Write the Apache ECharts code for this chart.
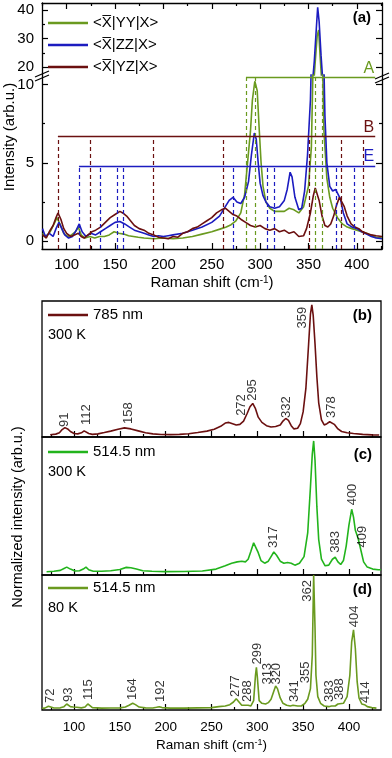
<!DOCTYPE html>
<html>
<head>
<meta charset="utf-8">
<script src="https://cdn.jsdelivr.net/npm/echarts@6/dist/echarts.min.js"></script>
<style>
  html, body { margin: 0; padding: 0; background: #fff; }
  #chart { width: 392px; height: 758px; }
</style>
</head>
<body>
<div id="chart"></div>
<script>
// ── data ─────────────────────────────────────────────────
// panel (a): polarized spectra, [Raman shift, intensity]
const specYY = [[75,0.5],[79,0.3],[83,0.6],[87,1.1],[90,1.5],[93,1.1],[97,0.5],[101,0.3],[105,0.4],[109,0.6],[112,0.9],[115,0.4],[119,0.2],[124,0.3],[129,0.2],[134,0.3],[139,0.3],[144,0.4],[149,0.6],[154,0.5],[159,0.45],[164,0.35],[169,0.3],[174,0.25],[180,0.2],[190,0.15],[200,0.2],[210,0.15],[220,0.2],[230,0.3],[240,0.45],[250,0.6],[260,0.8],[265,0.9],[270,1.05],[275,1.3],[280,1.8],[284,3.0],[287,5.0],[290,7.0],[292,9.0],[294.5,10.2],[297,9.6],[299,7.2],[301,5.0],[303,3.5],[306,2.5],[310,2.1],[315,1.9],[320,1.9],[325,1.9],[330,2.1],[335,2.0],[340,1.8],[345,2.2],[350,3.5],[353,6],[355,12],[357,22],[359,31],[360.5,33],[362,24],[364,13],[366,7],[369,4],[372,2.8],[375,2.1],[380,1.5],[385,1.1],[390,0.9],[395,0.8],[400,0.7],[405,0.6],[410,0.5],[415,0.35],[420,0.25],[426,0.2]];
const specZZ = [[75,0.8],[78,0.3],[82,0.5],[86,0.3],[89,0.8],[92,1.2],[95,0.8],[98,0.4],[102,0.2],[106,0.3],[110,0.7],[113,1.1],[116,0.6],[120,0.3],[125,0.5],[130,0.4],[135,0.6],[140,0.8],[145,1.0],[150,1.2],[155,1.25],[160,1.1],[165,0.9],[170,0.7],[175,0.6],[180,0.5],[185,0.4],[190,0.3],[195,0.35],[200,0.3],[205,0.35],[210,0.4],[220,0.5],[230,0.7],[240,0.9],[250,1.2],[258,1.6],[264,2.2],[268,2.6],[272,2.8],[276,2.5],[280,2.4],[284,2.8],[288,3.8],[291,5.5],[294,6.9],[296,6.5],[298,5.0],[300,3.7],[303,2.9],[306,2.5],[310,2.2],[315,2.1],[320,2.2],[325,2.6],[328,3.3],[331,4.4],[333,4.1],[336,2.8],[340,2.0],[343,2.1],[346,3.2],[349,5.5],[352,9],[354,14],[356,22],[358,33],[359.5,41],[361,36],[363,24],[365,14],[367,8],[369,5],[372,3.5],[375,3.2],[378,3.3],[380,3.3],[383,2.7],[386,1.8],[390,1.1],[395,0.9],[400,0.8],[405,0.6],[410,0.45],[415,0.3],[420,0.2],[426,0.15]];
const specYZ = [[75,0.4],[79,0.2],[82,0.6],[86,1.0],[89,1.5],[91,1.8],[94,1.4],[97,0.8],[100,0.5],[104,0.3],[108,0.4],[112,0.5],[115,0.3],[118,0.2],[122,0.4],[126,0.6],[130,0.7],[135,0.9],[140,1.2],[145,1.5],[150,1.7],[155,1.9],[158,1.8],[162,1.6],[166,1.3],[170,1.0],[175,0.8],[180,0.7],[185,0.5],[190,0.4],[195,0.25],[200,0.2],[205,0.15],[210,0.3],[215,0.25],[220,0.5],[225,0.6],[230,0.8],[235,0.9],[240,1.1],[245,1.3],[250,1.5],[255,1.8],[260,2.0],[264,2.1],[268,1.9],[272,1.7],[276,1.6],[280,1.4],[285,1.2],[290,1.0],[295,0.9],[300,1.0],[305,0.8],[310,0.7],[315,0.8],[320,0.6],[325,0.7],[330,0.5],[335,0.6],[340,0.3],[345,0.35],[348,0.8],[352,1.8],[355,2.9],[357,3.4],[359,3.3],[361,2.6],[364,1.6],[367,1.0],[370,0.9],[373,1.1],[376,1.6],[379,2.3],[382,2.8],[384,2.7],[387,2.2],[390,1.6],[394,1.1],[398,0.9],[402,0.8],[406,0.6],[410,0.5],[415,0.4],[420,0.35],[426,0.3]];

// panel (a): calculated mode positions (dashed) and level of each group line
const modesA = [285.4, 294.6, 356.8, 364];
const modesB = [91, 124, 189, 261.6, 350.6, 383.7, 406.4];
const modesE = [112.7, 134.4, 152, 158, 272, 307, 315, 379, 397];
const levelA = 10.45, levelB = 6.67, levelE = 4.8;
const groupEnd = 419;

// panels (b)-(d): normalized spectra
const spec785 = [[74,0.005],[80,0.01],[84,0.02],[87,0.045],[90,0.06],[93,0.05],[96,0.03],[100,0.015],[104,0.012],[108,0.02],[111,0.035],[113,0.033],[116,0.015],[120,0.008],[126,0.012],[133,0.022],[140,0.033],[148,0.048],[155,0.058],[162,0.05],[170,0.035],[178,0.02],[186,0.012],[195,0.007],[205,0.006],[215,0.008],[225,0.013],[235,0.022],[245,0.033],[253,0.048],[260,0.07],[265,0.095],[269,0.1],[273,0.09],[277,0.08],[281,0.085],[285,0.11],[289,0.17],[292,0.22],[295,0.245],[298,0.205],[301,0.14],[305,0.1],[310,0.075],[315,0.065],[320,0.068],[325,0.08],[328,0.11],[331,0.13],[334,0.115],[337,0.075],[340,0.05],[344,0.055],[347,0.09],[350,0.18],[353,0.36],[356,0.7],[358,0.93],[359.5,1.0],[361,0.92],[363,0.7],[365,0.45],[367,0.25],[370,0.12],[373,0.08],[376,0.09],[379,0.105],[381,0.11],[384,0.085],[388,0.05],[392,0.03],[398,0.02],[405,0.015],[415,0.008],[425,0.004],[433,0.003]];
const spec514RT = [[70,0.005],[78,0.008],[85,0.015],[89,0.03],[92,0.04],[96,0.025],[101,0.01],[106,0.012],[110,0.025],[113,0.04],[116,0.02],[121,0.008],[130,0.008],[140,0.012],[150,0.022],[157,0.038],[162,0.035],[168,0.025],[175,0.012],[185,0.008],[200,0.006],[220,0.007],[240,0.01],[255,0.025],[265,0.05],[272,0.07],[278,0.08],[283,0.085],[287,0.08],[290,0.1],[293,0.16],[296,0.225],[298,0.22],[301,0.15],[304,0.09],[308,0.07],[312,0.085],[315,0.12],[318,0.155],[321,0.13],[325,0.085],[329,0.07],[333,0.075],[337,0.07],[341,0.055],[346,0.07],[351,0.12],[355,0.3],[358,0.65],[360,0.9],[361.5,1.0],[363,0.85],[365,0.5],[367,0.25],[370,0.1],[374,0.05],[378,0.055],[382,0.1],[385,0.115],[388,0.08],[391,0.06],[394,0.09],[397,0.2],[400,0.36],[403,0.48],[405,0.42],[407,0.32],[410,0.26],[413,0.17],[416,0.08],[420,0.04],[426,0.025],[432,0.02],[435,0.02]];
const spec514LT = [[65,0.003],[68,0.004],[70,0.01],[72,0.018],[74,0.01],[78,0.005],[85,0.006],[89,0.015],[92,0.035],[94,0.035],[96,0.015],[99,0.012],[101,0.02],[103,0.01],[108,0.006],[112,0.012],[115,0.035],[117,0.03],[120,0.008],[130,0.004],[140,0.005],[150,0.006],[156,0.012],[160,0.025],[164,0.04],[167,0.03],[171,0.012],[178,0.006],[186,0.005],[190,0.01],[193,0.015],[196,0.008],[205,0.004],[220,0.004],[235,0.006],[250,0.008],[258,0.015],[265,0.02],[270,0.03],[274,0.05],[277,0.075],[280,0.05],[283,0.025],[286,0.025],[288,0.035],[290,0.025],[293,0.02],[296,0.06],[298,0.25],[299,0.31],[300,0.24],[302,0.06],[305,0.04],[309,0.035],[312,0.045],[315,0.07],[318,0.13],[320,0.17],[322,0.15],[325,0.08],[328,0.04],[332,0.025],[336,0.02],[339,0.025],[341,0.03],[344,0.02],[348,0.02],[352,0.04],[355,0.07],[358,0.15],[360,0.4],[361.5,1.0],[363,0.6],[364,0.25],[366,0.09],[369,0.04],[373,0.02],[378,0.015],[381,0.02],[383,0.025],[385,0.02],[388,0.035],[390,0.03],[394,0.04],[398,0.09],[401,0.25],[403,0.5],[405,0.59],[407,0.45],[409,0.2],[411,0.08],[414,0.035],[417,0.03],[420,0.015],[425,0.008],[430,0.004]];

// peak annotations: [shift, level of text foot, text]
const peaks785 = [[90,0.065,"91"],[113,0.08,"112"],[159,0.087,"158"],[283,0.15,"272"],[295,0.265,"295"],[332,0.133,"332"],[349,0.82,"359"],[381,0.133,"378"]];
const peaks514RT = [[318,0.185,"317"],[385,0.15,"383"],[404,0.51,"400"],[415,0.19,"409"]];
const peaks514LT = [[73.8,0.043,"72"],[93.5,0.05,"93"],[116,0.065,"115"],[164,0.065,"164"],[194,0.05,"192"],[275.6,0.088,"277"],[288.7,0.05,"288"],[299.6,0.33,"299"],[310.5,0.18,"313"],[321,0.18,"320"],[341,0.05,"341"],[352,0.19,"355"],[355,0.8,"362"],[379,0.05,"383"],[390,0.065,"388"],[406,0.61,"404"],[418,0.043,"414"]];

// axes
const xTicksMajor = [100, 150, 200, 250, 300, 350, 400];
const xTicksMinor = [75, 125, 175, 225, 275, 325, 375, 425];
const yUpperLabels = [20, 30, 40], yUpperMinor = [25, 35];
const yLowerLabels = [0, 5, 10], yLowerMinor = [2.5, 7.5];

// ── chart ────────────────────────────────────────────────
const FONT = 'Arial, "Liberation Sans", sans-serif';
const C = { yy: "#6a9a1f", zz: "#1c1cc0", yz: "#6b1010", rt: "#22b41c" };
const nameYY = "<X\u0305|YY|X>", nameZZ = "<X\u0305|ZZ|X>", nameYZ = "<X\u0305|YZ|X>";

const chart = echarts.init(document.getElementById("chart"), null, { renderer: "canvas" });

function axis(grid, min, max, pos, cfg) {
  return {
    type: "value", gridIndex: grid, min, max, position: pos,
    splitLine: { show: false },
    axisLine: { show: !!cfg.line, onZero: false, lineStyle: { color: "#000", width: 1.3 } },
    axisTick: cfg.ticks
      ? { show: true, inside: true, length: cfg.len || 6, customValues: cfg.ticks, lineStyle: { color: "#000", width: 1.2 } }
      : { show: false },
    axisLabel: cfg.labels
      ? { show: true, customValues: cfg.labels, fontSize: cfg.fs || 15, color: "#000", fontFamily: FONT, margin: cfg.margin || 8 }
      : { show: false },
    name: cfg.name || "",
    nameLocation: "middle",
    nameGap: cfg.nameGap || 26,
    nameTextStyle: {
      fontSize: cfg.fs || 15, color: "#000", fontFamily: FONT,
      rich: { sup: { fontSize: Math.round((cfg.fs || 15) * 0.65), verticalAlign: "top", color: "#000", fontFamily: FONT } },
    },
  };
}

const A_MIN = 74.5, A_MAX = 426, B_MIN = 65, B_MAX = 435;
const shiftName = "Raman shift (cm{sup|-1})";

const xAxes = [
  axis(0, A_MIN, A_MAX, "top", { line: true, ticks: xTicksMajor, len: 6 }),
  axis(0, A_MIN, A_MAX, "top", { ticks: xTicksMinor, len: 3 }),
  axis(1, A_MIN, A_MAX, "bottom", { line: true, ticks: xTicksMajor, len: 6, labels: xTicksMajor, name: shiftName, nameGap: 26 }),
  axis(1, A_MIN, A_MAX, "bottom", { ticks: xTicksMinor, len: 3 }),
  axis(2, B_MIN, B_MAX, "bottom", { ticks: xTicksMajor, len: 6 }),
  axis(2, B_MIN, B_MAX, "bottom", { ticks: xTicksMinor, len: 3 }),
  axis(3, B_MIN, B_MAX, "bottom", { ticks: xTicksMajor, len: 6 }),
  axis(3, B_MIN, B_MAX, "bottom", { ticks: xTicksMinor, len: 3 }),
  axis(4, B_MIN, B_MAX, "bottom", { ticks: xTicksMajor, len: 6, labels: xTicksMajor, fs: 13.5, margin: 10, name: shiftName, nameGap: 28 }),
  axis(4, B_MIN, B_MAX, "bottom", { ticks: xTicksMinor, len: 3 }),
];

const UP_MIN = 17.2, UP_MAX = 42.5, LO_MIN = -0.5, LO_MAX = 10.6;
const yAxes = [
  axis(0, UP_MIN, UP_MAX, "left", { line: true, ticks: yUpperLabels, len: 6, labels: yUpperLabels }),
  axis(0, UP_MIN, UP_MAX, "left", { ticks: yUpperMinor, len: 3 }),
  axis(0, UP_MIN, UP_MAX, "right", { line: true, ticks: yUpperLabels, len: 6 }),
  axis(0, UP_MIN, UP_MAX, "right", { ticks: yUpperMinor, len: 3 }),
  axis(1, LO_MIN, LO_MAX, "left", { line: true, ticks: yLowerLabels, len: 6, labels: yLowerLabels }),
  axis(1, LO_MIN, LO_MAX, "left", { ticks: yLowerMinor, len: 3 }),
  axis(1, LO_MIN, LO_MAX, "right", { line: true, ticks: yLowerLabels, len: 6 }),
  axis(1, LO_MIN, LO_MAX, "right", { ticks: yLowerMinor, len: 3 }),
  axis(2, -0.012, 1.03, "left", {}),
  axis(3, -0.02, 1.03, "left", {}),
  axis(4, -0.01, 1.0, "left", {}),
];

const frame = { show: true, borderColor: "#000", borderWidth: 1.3, backgroundColor: "transparent", outerBoundsMode: "none" };
const grids = [
  { left: 42, right: 10, top: 3, height: 72, outerBoundsMode: "none" },
  { left: 42, right: 10, top: 75, height: 174, outerBoundsMode: "none" },
  Object.assign({ left: 42, right: 11, top: 301, height: 136 }, frame),
  Object.assign({ left: 42, right: 11, top: 437, height: 138 }, frame),
  Object.assign({ left: 42, right: 11, top: 575, height: 135 }, frame),
];

function spec(name, data, color, xi, yi, extra) {
  return Object.assign({
    type: "line", name, data, xAxisIndex: xi, yAxisIndex: yi,
    symbol: "none", showSymbol: false, clip: true, animation: false, silent: true,
    lineStyle: { color, width: 1.6 }, itemStyle: { color },
  }, extra || {});
}

// one group: a horizontal line at `level` from the first mode to groupEnd, dashed drops to the axis
function groupLines(modes, level, color, letter) {
  const data = [[
    { coord: [modes[0], level], lineStyle: { type: "solid", color, width: 1.4 },
      label: { show: true, formatter: letter, position: "insideEndTop", color, fontSize: 16, fontFamily: FONT, distance: 1 } },
    { coord: [groupEnd, level] },
  ]];
  for (const m of modes) {
    data.push([
      { coord: [m, LO_MIN], lineStyle: { type: [4, 3], color, width: 1.2 }, label: { show: false } },
      { coord: [m, level] },
    ]);
  }
  return { symbol: ["none", "none"], silent: true, animation: false, data };
}

function peakLabels(data, xi, yi) {
  return {
    type: "scatter", data, xAxisIndex: xi, yAxisIndex: yi, symbolSize: 1, silent: true, animation: false,
    itemStyle: { color: "transparent" }, z: 5,
    label: {
      show: true, position: "inside", rotate: 90, align: "left", verticalAlign: "middle",
      formatter: (p) => p.value[2], fontSize: 13, color: "#000", fontFamily: FONT,
    },
  };
}

const series = [
  // (a) upper part of broken axis
  spec("up-yy", specYY, C.yy, 0, 0),
  spec("up-zz", specZZ, C.zz, 0, 0),
  spec("up-yz", specYZ, C.yz, 0, 0),
  // (a) lower part
  spec(nameYY, specYY, C.yy, 2, 4, { markLine: groupLines(modesA, levelA, C.yy, "A") }),
  spec(nameZZ, specZZ, C.zz, 2, 4, { markLine: groupLines(modesE, levelE, C.zz, "E") }),
  spec(nameYZ, specYZ, C.yz, 2, 4, { markLine: groupLines(modesB, levelB, C.yz, "B") }),
  // (b)-(d)
  spec("785 nm", spec785, C.yz, 4, 8),
  spec("514.5 nm", spec514RT, C.rt, 6, 9),
  spec("514.5 nm ", spec514LT, C.yy, 8, 10),
  peakLabels(peaks785, 4, 8),
  peakLabels(peaks514RT, 6, 9),
  peakLabels(peaks514LT, 8, 10),
];

function legend(names, left, top) {
  return {
    data: names, orient: "vertical", left, top, icon: "rect", itemWidth: 40, itemHeight: 2.5, itemGap: 4,
    selectedMode: false, padding: 0,
    textStyle: { fontSize: 15, color: "#000", fontFamily: FONT, lineHeight: 18 },
  };
}

function txt(x, y, text, opts) {
  const o = opts || {};
  return {
    type: "text", x, y, rotation: o.rot || 0, silent: true,
    style: {
      text, fill: o.color || "#000", font: (o.weight || "normal") + " " + (o.size || 14) + "px " + FONT,
      align: o.align || "left", verticalAlign: "middle", textAlign: o.align || "left", textVerticalAlign: "middle",
    },
  };
}

function breakMark(x, y) {
  return [
    { type: "polygon", silent: true, shape: { points: [[x - 7, y + 3], [x + 7, y - 3], [x + 7, y + 1], [x - 7, y + 7]] }, style: { fill: "#fff" } },
    { type: "line", silent: true, shape: { x1: x - 7, y1: y + 3, x2: x + 7, y2: y - 3 }, style: { stroke: "#000", lineWidth: 1.3 } },
    { type: "line", silent: true, shape: { x1: x - 7, y1: y + 7, x2: x + 7, y2: y + 1 }, style: { stroke: "#000", lineWidth: 1.3 } },
  ];
}

chart.setOption({
  animation: false,
  backgroundColor: "#fff",
  grid: grids,
  xAxis: xAxes,
  yAxis: yAxes,
  legend: [
    legend([nameYY, nameZZ, nameYZ], 48, 14),
    legend(["785 nm"], 48, 306),
    legend(["514.5 nm"], 48, 443),
    legend(["514.5 nm "], 48, 579),
  ],
  series,
  graphic: [
    txt(10, 137, "Intensity (arb.u.)", { size: 15, rot: Math.PI / 2, align: "center" }),
    txt(18, 517, "Normalized intensity (arb.u.)", { size: 14.5, rot: Math.PI / 2, align: "center" }),
    txt(371, 18, "(a)", { size: 15, weight: "bold", align: "right" }),
    txt(372, 316, "(b)", { size: 15, weight: "bold", align: "right" }),
    txt(372, 455, "(c)", { size: 15, weight: "bold", align: "right" }),
    txt(372, 590, "(d)", { size: 15, weight: "bold", align: "right" }),
    txt(48, 335, "300 K", { size: 14.5 }),
    txt(48, 472, "300 K", { size: 14.5 }),
    txt(48, 608, "80 K", { size: 14.5 }),
    ...breakMark(42, 74),
    ...breakMark(382, 76),
  ],
});

window.addEventListener("resize", () => chart.resize());
</script>
</body>
</html>
